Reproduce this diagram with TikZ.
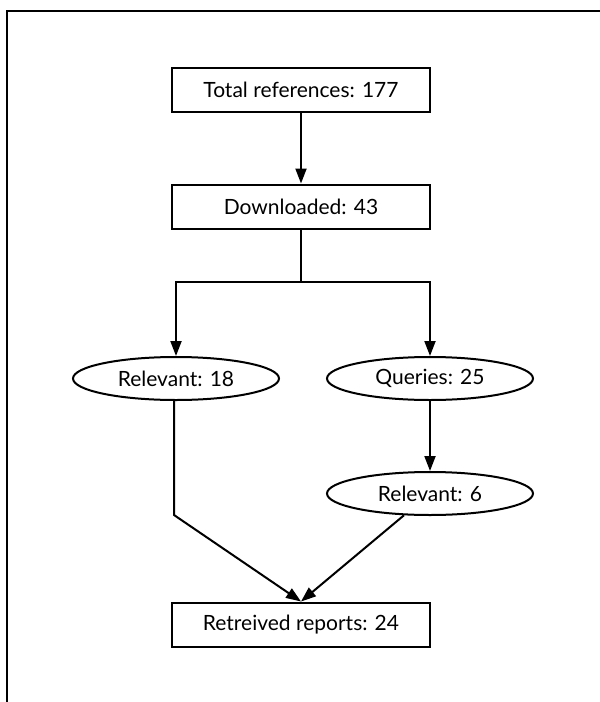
\documentclass[tikz,border=0pt]{standalone}
\usepackage{fontspec}
\setmainfont{Lato}
\usetikzlibrary{arrows.meta,shapes.geometric}
\begin{document}
\begin{tikzpicture}[x=1pt,y=-1pt,line width=2pt,
  lbl/.style={font=\fontsize{21}{25}\selectfont},
  box/.style={lbl,draw,rectangle,minimum width=258pt,minimum height=44pt,inner sep=0pt},
  oval/.style={lbl,draw,ellipse,minimum width=206pt,minimum height=43pt,inner sep=0pt},
  arr/.style={-{Triangle[length=15pt,width=11pt]}}]
\useasboundingbox (0,0) rectangle (600,702);
\draw (7,702) -- (7,11) -- (600,11);
\node[box] (tot) at (301,90) {Total references: 177};
\node[box] (dl) at (301,206.5) {Downloaded: 43};
\node[oval] (r18) at (176,378.5) {Relevant: 18};
\node[oval] (q25) at (430,378.5) {Queries: 25};
\node[oval] (r6) at (430,493.5) {Relevant: 6};
\node[box] (ret) at (301,624.5) {Retreived reports: 24};
\coordinate (split) at (301,282);
\coordinate (bend) at (174,515);
\draw[arr] (tot) -- (dl);
\draw (dl.south) -- (split);
\draw[arr] (split) -| (r18.north);
\draw[arr] (split) -| (q25.north);
\draw[arr] (q25) -- (r6);
\draw[arr] (r18.south -| bend) -- (bend) -- (ret.north);
\draw[arr] (r6) -- (ret.north);
\end{tikzpicture}
\end{document}
